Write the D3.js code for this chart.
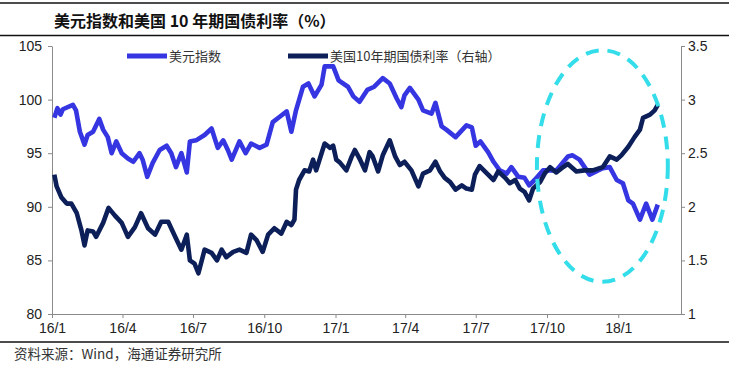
<!DOCTYPE html>
<html>
<head>
<meta charset="utf-8">
<script src="https://cdn.jsdelivr.net/npm/d3@7"></script>
<style>
  body { margin: 0; background: #fff; }
  svg { display: block; }
</style>
</head>
<body>
<div id="chart"></div>
<script>
// 美元指数 (left axis)
var dxy = [
  ["2016-01-04", 98.3], ["2016-01-08", 99.2], ["2016-01-12", 98.6], ["2016-01-15", 99.1],
  ["2016-01-28", 99.5], ["2016-02-01", 99.0], ["2016-02-06", 97.0], ["2016-02-12", 95.8],
  ["2016-02-16", 96.7], ["2016-02-23", 97.0], ["2016-03-02", 98.2], ["2016-03-07", 97.2],
  ["2016-03-13", 96.5], ["2016-03-18", 95.0], ["2016-03-24", 96.1], ["2016-03-31", 95.0],
  ["2016-04-08", 94.5], ["2016-04-15", 94.2], ["2016-04-23", 95.0], ["2016-04-27", 94.4],
  ["2016-05-03", 92.8], ["2016-05-10", 94.1], ["2016-05-19", 95.3], ["2016-05-28", 95.7],
  ["2016-06-03", 95.0], ["2016-06-09", 93.7], ["2016-06-16", 95.0], ["2016-06-23", 93.2],
  ["2016-06-27", 96.1], ["2016-07-05", 96.2], ["2016-07-16", 96.7], ["2016-07-25", 97.3],
  ["2016-08-02", 95.5], ["2016-08-09", 96.2], ["2016-08-15", 95.3], ["2016-08-20", 94.4],
  ["2016-08-30", 96.1], ["2016-09-07", 95.0], ["2016-09-14", 95.9], ["2016-09-25", 95.5],
  ["2016-10-04", 95.8], ["2016-10-12", 97.9], ["2016-10-21", 98.4], ["2016-10-30", 98.9],
  ["2016-11-05", 97.0], ["2016-11-11", 99.0], ["2016-11-20", 101.2], ["2016-11-27", 101.5],
  ["2016-12-05", 100.3], ["2016-12-14", 101.4], ["2016-12-18", 103.1], ["2016-12-29", 103.1],
  ["2017-01-05", 101.8], ["2017-01-17", 101.2], ["2017-01-24", 100.3], ["2017-02-01", 99.8],
  ["2017-02-11", 100.9], ["2017-02-20", 101.2], ["2017-03-03", 102.0], ["2017-03-12", 101.5],
  ["2017-03-21", 100.1], ["2017-03-27", 99.3], ["2017-03-31", 100.4], ["2017-04-07", 101.1],
  ["2017-04-18", 100.0], ["2017-04-24", 99.0], ["2017-05-05", 98.7], ["2017-05-10", 99.7],
  ["2017-05-18", 97.5], ["2017-05-24", 97.2], ["2017-06-05", 96.5], ["2017-06-19", 97.6],
  ["2017-06-26", 97.4], ["2017-07-01", 95.7], ["2017-07-07", 96.1], ["2017-07-17", 95.1],
  ["2017-07-24", 94.2], ["2017-08-01", 93.4], ["2017-08-10", 93.1], ["2017-08-16", 93.7],
  ["2017-08-25", 92.8], ["2017-09-02", 92.7], ["2017-09-08", 92.0], ["2017-09-15", 92.5],
  ["2017-09-26", 93.4], ["2017-10-13", 93.4], ["2017-10-28", 94.7], ["2017-11-03", 94.8],
  ["2017-11-12", 94.4], ["2017-11-25", 93.0], ["2017-12-06", 93.4], ["2017-12-12", 93.6],
  ["2017-12-21", 93.7], ["2017-12-30", 92.5], ["2018-01-07", 92.2], ["2018-01-14", 90.6],
  ["2018-01-20", 90.3], ["2018-01-29", 88.8], ["2018-02-06", 90.3], ["2018-02-14", 88.8],
  ["2018-02-21", 90.2]
];

// 美国10年期国债利率 (right axis)
var ust10 = [
  ["2016-01-04", 2.30], ["2016-01-07", 2.19], ["2016-01-13", 2.09], ["2016-01-20", 2.03],
  ["2016-01-26", 2.03], ["2016-02-02", 1.94], ["2016-02-08", 1.78], ["2016-02-12", 1.64],
  ["2016-02-16", 1.78], ["2016-02-23", 1.77], ["2016-02-27", 1.72], ["2016-03-07", 1.85],
  ["2016-03-14", 1.99], ["2016-03-22", 1.92], ["2016-03-31", 1.85], ["2016-04-08", 1.72],
  ["2016-04-17", 1.81], ["2016-04-25", 1.94], ["2016-05-04", 1.80], ["2016-05-13", 1.74],
  ["2016-05-21", 1.86], ["2016-05-30", 1.86], ["2016-06-08", 1.72], ["2016-06-16", 1.60],
  ["2016-06-23", 1.74], ["2016-06-27", 1.50], ["2016-07-03", 1.47], ["2016-07-08", 1.38],
  ["2016-07-16", 1.60], ["2016-07-25", 1.57], ["2016-08-01", 1.50], ["2016-08-07", 1.60],
  ["2016-08-13", 1.53], ["2016-08-22", 1.58], ["2016-08-30", 1.60], ["2016-09-08", 1.57],
  ["2016-09-14", 1.74], ["2016-09-21", 1.69], ["2016-09-29", 1.58], ["2016-10-06", 1.74],
  ["2016-10-14", 1.80], ["2016-10-23", 1.75], ["2016-10-30", 1.86], ["2016-11-05", 1.83],
  ["2016-11-09", 1.88], ["2016-11-11", 2.16], ["2016-11-15", 2.25], ["2016-11-22", 2.34],
  ["2016-11-28", 2.33], ["2016-12-03", 2.44], ["2016-12-07", 2.34], ["2016-12-14", 2.50],
  ["2016-12-18", 2.59], ["2016-12-25", 2.55], ["2016-12-29", 2.57], ["2017-01-02", 2.44],
  ["2017-01-07", 2.41], ["2017-01-15", 2.34], ["2017-01-22", 2.47], ["2017-01-26", 2.53],
  ["2017-02-01", 2.45], ["2017-02-08", 2.34], ["2017-02-14", 2.51], ["2017-02-18", 2.47],
  ["2017-02-25", 2.33], ["2017-03-03", 2.48], ["2017-03-12", 2.62], ["2017-03-19", 2.47],
  ["2017-03-25", 2.39], ["2017-03-31", 2.42], ["2017-04-09", 2.34], ["2017-04-18", 2.19],
  ["2017-04-24", 2.31], ["2017-05-03", 2.34], ["2017-05-10", 2.42], ["2017-05-16", 2.33],
  ["2017-05-22", 2.27], ["2017-05-29", 2.23], ["2017-06-05", 2.16], ["2017-06-13", 2.20],
  ["2017-06-19", 2.17], ["2017-06-26", 2.16], ["2017-06-30", 2.30], ["2017-07-06", 2.38],
  ["2017-07-17", 2.30], ["2017-07-24", 2.25], ["2017-07-30", 2.33], ["2017-08-08", 2.27],
  ["2017-08-14", 2.22], ["2017-08-21", 2.25], ["2017-08-27", 2.17], ["2017-09-02", 2.14],
  ["2017-09-08", 2.06], ["2017-09-13", 2.17], ["2017-09-22", 2.23], ["2017-09-28", 2.31],
  ["2017-10-05", 2.37], ["2017-10-13", 2.32], ["2017-10-20", 2.36], ["2017-10-28", 2.40],
  ["2017-11-08", 2.33], ["2017-11-18", 2.34], ["2017-11-29", 2.34], ["2017-12-12", 2.37],
  ["2017-12-21", 2.47], ["2017-12-30", 2.44], ["2018-01-05", 2.48], ["2018-01-14", 2.56],
  ["2018-01-22", 2.65], ["2018-01-29", 2.72], ["2018-02-02", 2.83], ["2018-02-11", 2.86],
  ["2018-02-17", 2.90], ["2018-02-21", 2.95]
];

var xTicks = ["2016-01-01", "2016-04-01", "2016-07-01", "2016-10-01", "2017-01-01",
              "2017-04-01", "2017-07-01", "2017-10-01", "2018-01-01"];
var leftTicks = [80, 85, 90, 95, 100, 105];
var rightTicks = [1, 1.5, 2, 2.5, 3, 3.5];
var seriesNames = ["美元指数", "美国10年期国债利率（右轴）"];
// dashed ellipse highlighting the recent divergence
var highlightDates = ["2017-09-18", "2018-03-06"];
var highlightValues = [104.6, 83.0];

var W = 729, H = 372;
var parse = d3.timeParse("%Y-%m-%d");
var blue = "#3535e2", navy = "#0c1f58", cyan = "#33dde9";
var latin = "'Liberation Sans', Arial, sans-serif";
var cjk = "'Noto Sans CJK SC', sans-serif";

var svg = d3.select("#chart").append("svg")
  .attr("width", W).attr("height", H);

var x = d3.scaleTime()
  .domain([parse("2016-01-01"), parse("2018-03-23")])
  .range([52, 681]);
var yL = d3.scaleLinear().domain([80, 105]).range([314, 46]);
var yR = d3.scaleLinear().domain([1, 3.5]).range([314, 46]);

// frame lines and title
svg.append("line").attr("x1", 0).attr("x2", W).attr("y1", 3).attr("y2", 3)
  .attr("stroke", "#111").attr("stroke-width", 1.5);
svg.append("line").attr("x1", 0).attr("x2", W).attr("y1", 35.5).attr("y2", 35.5)
  .attr("stroke", "#111").attr("stroke-width", 1.5);
svg.append("line").attr("x1", 0).attr("x2", W).attr("y1", 342).attr("y2", 342)
  .attr("stroke", "#111").attr("stroke-width", 1.5);

svg.append("text")
  .attr("x", 54).attr("y", 27)
  .attr("font-family", cjk).attr("font-size", 16).attr("font-weight", "bold")
  .attr("fill", "#111")
  .text("美元指数和美国 10 年期国债利率（%）");

svg.append("text")
  .attr("x", 14).attr("y", 359)
  .attr("font-family", cjk).attr("font-size", 13.5)
  .attr("fill", "#333")
  .text("资料来源：Wind，海通证券研究所");

// axes
function styleAxis(g) {
  g.selectAll(".domain").attr("stroke", "#8a8a8a");
  g.selectAll(".tick line").attr("stroke", "#8a8a8a");
  g.selectAll(".tick text").attr("fill", "#222")
    .attr("font-family", latin).attr("font-size", 14);
}

svg.append("g")
  .attr("transform", "translate(0,314)")
  .call(d3.axisBottom(x)
    .tickValues(xTicks.map(parse))
    .tickFormat(d3.timeFormat("%y/%-m"))
    .tickSizeInner(4).tickSizeOuter(0).tickPadding(5))
  .call(styleAxis);

svg.append("g")
  .attr("transform", "translate(52,0)")
  .call(d3.axisLeft(yL).tickValues(leftTicks)
    .tickSizeInner(4).tickSizeOuter(0).tickPadding(6))
  .call(styleAxis);

svg.append("g")
  .attr("transform", "translate(681,0)")
  .call(d3.axisRight(yR).tickValues(rightTicks)
    .tickFormat(function (d) { return String(d) })
    .tickSizeInner(4).tickSizeOuter(0).tickPadding(3))
  .call(styleAxis);

// series
var lineL = d3.line()
  .x(function (d) { return x(parse(d[0])) })
  .y(function (d) { return yL(d[1]) });
var lineR = d3.line()
  .x(function (d) { return x(parse(d[0])) })
  .y(function (d) { return yR(d[1]) });

svg.append("path").datum(dxy)
  .attr("d", lineL)
  .attr("fill", "none").attr("stroke", blue)
  .attr("stroke-width", 4.6).attr("stroke-linejoin", "round");

svg.append("path").datum(ust10)
  .attr("d", lineR)
  .attr("fill", "none").attr("stroke", navy)
  .attr("stroke-width", 4.6).attr("stroke-linejoin", "round");

// highlight ellipse
var ex0 = x(parse(highlightDates[0])), ex1 = x(parse(highlightDates[1]));
var ey0 = yL(highlightValues[0]), ey1 = yL(highlightValues[1]);
svg.append("ellipse")
  .attr("cx", (ex0 + ex1) / 2).attr("cy", (ey0 + ey1) / 2)
  .attr("rx", (ex1 - ex0) / 2).attr("ry", (ey1 - ey0) / 2)
  .attr("fill", "none").attr("stroke", cyan)
  .attr("stroke-width", 4).attr("stroke-dasharray", "13,9");

// legend
var legend = svg.append("g").attr("class", "legend");
var legendX = [127, 288];
[blue, navy].forEach(function (c, i) {
  legend.append("line")
    .attr("x1", legendX[i]).attr("x2", legendX[i] + 40)
    .attr("y1", 56).attr("y2", 56)
    .attr("stroke", c).attr("stroke-width", 5);
  legend.append("text")
    .attr("x", legendX[i] + 42).attr("y", 61)
    .attr("font-family", cjk).attr("font-size", 13)
    .attr("fill", "#333")
    .text(seriesNames[i]);
});
</script>
</body>
</html>
